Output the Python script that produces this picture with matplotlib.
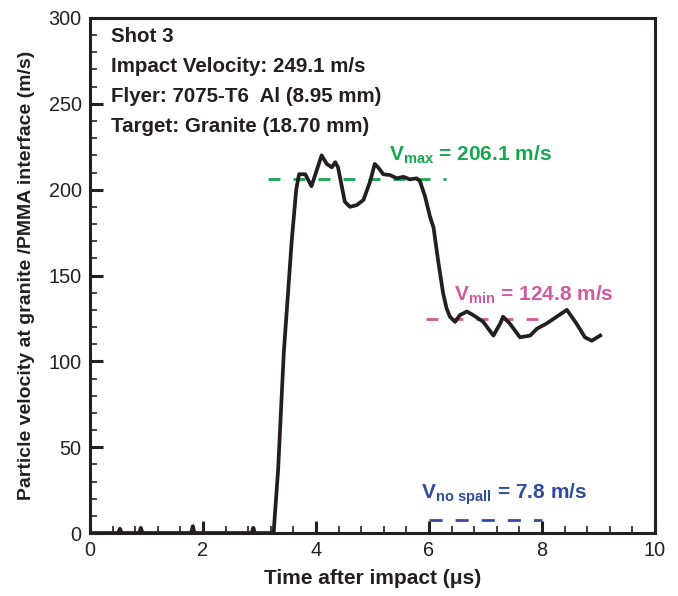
import matplotlib
matplotlib.use("Agg")
import matplotlib.pyplot as plt
from matplotlib.ticker import MultipleLocator

plt.rcParams['font.family'] = ['Liberation Sans', 'DejaVu Sans']
plt.rcParams['mathtext.fontset'] = 'custom'
plt.rcParams['mathtext.rm'] = 'Liberation Sans'
plt.rcParams['mathtext.bf'] = 'Liberation Sans:bold'
plt.rcParams['lines.scale_dashes'] = False

# Free-surface particle velocity trace (time in microseconds, velocity in m/s)
time_us = [0.0, 0.50, 0.53, 0.56, 0.87, 0.90, 0.93, 1.79, 1.82, 1.85, 2.86, 2.89, 2.92,
           3.25, 3.33, 3.43, 3.57, 3.65, 3.70, 3.81, 3.92, 4.01, 4.10, 4.19, 4.28,
           4.34, 4.39, 4.51, 4.60, 4.72, 4.84, 4.96, 5.04, 5.10, 5.19, 5.31, 5.43,
           5.55, 5.66, 5.78, 5.84, 5.93, 6.02, 6.08, 6.16, 6.25, 6.31, 6.37, 6.46,
           6.55, 6.67, 6.78, 6.96, 7.14, 7.26, 7.31, 7.43, 7.61, 7.79, 7.91, 8.08,
           8.26, 8.44, 8.61, 8.76, 8.88, 9.03]
velocity = [0.0, 0.0, 2.5, 0.0, 0.0, 3.0, 0.0, 0.0, 4.0, 0.0, 0.0, 3.0, 0.0,
            0.0, 37.0, 105.0, 170.0, 200.0, 209.0, 209.0, 202.0, 211.0, 220.0, 215.0, 213.0,
            216.0, 213.0, 193.0, 190.0, 191.0, 194.0, 205.0, 215.0, 213.0, 209.0, 208.5, 206.6,
            207.5, 206.0, 206.6, 205.0, 196.0, 184.0, 178.0, 159.0, 139.6, 131.0, 126.0, 123.0,
            127.0, 129.0, 127.0, 123.0, 115.0, 122.0, 126.0, 122.0, 114.0, 115.0, 119.0, 122.0,
            126.0, 130.0, 122.0, 114.0, 112.0, 115.0]

# Reference levels
v_max = 206.1
v_min = 124.8
v_no_spall = 7.8
vmax_span = [3.15, 6.3]
vmin_span = [5.95, 8.2]
vnospall_span = [6.0, 8.0]

info_lines = ["Shot 3",
              "Impact Velocity: 249.1 m/s",
              "Flyer: 7075-T6  Al (8.95 mm)",
              "Target: Granite (18.70 mm)"]

green = '#17a74e'
pink = '#d25aa0'
blue = '#2f4c9f'
ink = '#231f20'

fig = plt.figure(figsize=(6.78, 5.96), dpi=100)
ax = fig.add_axes([0.1327, 0.1057, 0.8334, 0.8641])

ax.plot(time_us, velocity, color=ink, lw=2.7, solid_joinstyle='round', zorder=3)

ax.plot(vmax_span, [v_max, v_max], color=green, lw=2.0, dashes=(8.6, 9.4), zorder=2)
ax.plot(vmin_span, [v_min, v_min], color=pink, lw=2.0, dashes=(8.6, 9.4), zorder=2)
ax.plot(vnospall_span, [v_no_spall, v_no_spall], color=blue, lw=2.0, dashes=(9.4, 9.4), zorder=2)

ax.text(5.3, 214, r'$\mathbf{V_{max}}$ = %.1f m/s' % v_max, color=green,
        fontsize=15, fontweight='bold', va='bottom', ha='left')
ax.text(6.45, 132, r'$\mathbf{V_{min}}$ = %.1f m/s' % v_min, color=pink,
        fontsize=15, fontweight='bold', va='bottom', ha='left')
ax.text(5.85, 15, r'$\mathbf{V_{no\ spall}}$ = %.1f m/s' % v_no_spall, color=blue,
        fontsize=15, fontweight='bold', va='bottom', ha='left')

for i, line in enumerate(info_lines):
    ax.text(0.037, 0.982 - i * 0.0583, line, transform=ax.transAxes, color=ink,
            fontsize=14.8, fontweight='bold', va='top', ha='left')

ax.set_xlim(0, 10)
ax.set_ylim(0, 300)
ax.xaxis.set_major_locator(MultipleLocator(2))
ax.xaxis.set_minor_locator(MultipleLocator(0.4))
ax.yaxis.set_major_locator(MultipleLocator(50))
ax.yaxis.set_minor_locator(MultipleLocator(10))
ax.tick_params(which='both', direction='in', top=False, right=False, color=ink,
               labelcolor=ink, labelsize=14.3)
ax.tick_params(which='major', length=9, width=2.2, pad=6)
ax.tick_params(which='minor', length=5, width=1.2)
for s in ax.spines.values():
    s.set_linewidth(2.2)
    s.set_color(ink)

ax.set_xlabel('Time after impact (μs)', fontsize=15, fontweight='bold', color=ink, labelpad=6)
ax.set_ylabel('Particle velocity at granite /PMMA interface (m/s)', fontsize=14,
              fontweight='bold', color=ink, labelpad=10)

fig.savefig('out.png', dpi=100)
